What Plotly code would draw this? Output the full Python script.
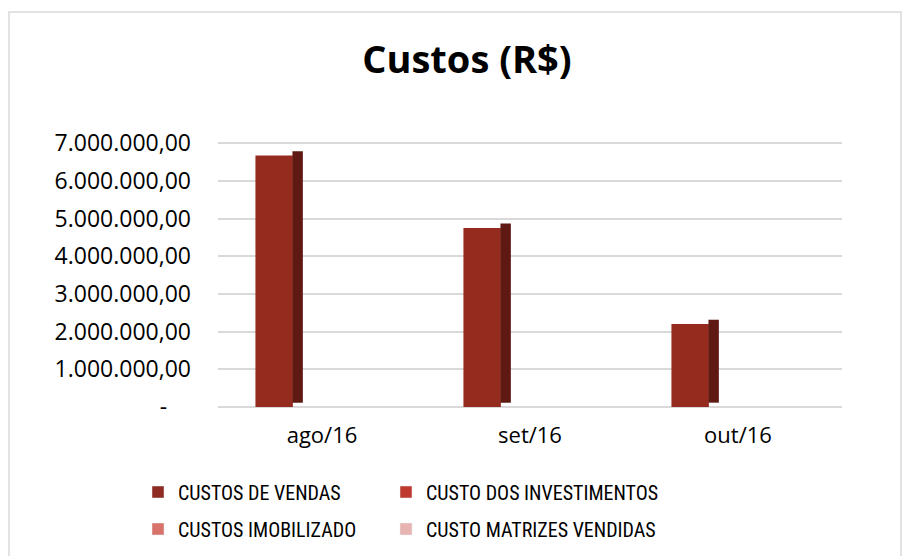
import plotly.graph_objects as go

# ---------------- data ----------------
categories = ["ago/16", "set/16", "out/16"]
series_names = ["CUSTOS DE VENDAS", "CUSTO DOS INVESTIMENTOS",
                "CUSTOS IMOBILIZADO", "CUSTO MATRIZES VENDIDAS"]
custos_vendas = [6670000, 4750000, 2200000]
custo_investimentos = [0, 0, 0]
custos_imobilizado = [0, 0, 0]
custo_matrizes = [0, 0, 0]
tick_values = [0, 1000000, 2000000, 3000000, 4000000, 5000000, 6000000, 7000000]
tick_labels = ["-\u00a0\u00a0\u00a0\u00a0", "1.000.000,00", "2.000.000,00", "3.000.000,00",
               "4.000.000,00", "5.000.000,00", "6.000.000,00", "7.000.000,00"]

series_values = [custos_vendas, custo_investimentos, custos_imobilizado, custo_matrizes]
colors = ["#8E2B22", "#BE3A2E", "#D9726A", "#E8B4B1"]
front_color = "#952A1E"

# the page body has an 8px margin, so the figure is sized to fit the window
W, H = 905, 548
ml, mr, mt, mb = 210, 71, 134, 149

fig = go.Figure()
bw = 0.18
start = -0.32
for i, (name, vals) in enumerate(zip(series_names, series_values)):
    fig.add_trace(go.Bar(
        x=categories, y=vals, name=name,
        offset=start + i * bw, width=bw,
        marker=dict(color=front_color if i == 0 else colors[i], line=dict(width=0)),
        showlegend=False,
        hoverinfo="x+y+name",
    ))

# 3D-like side face for the first series
depth = 230000
fig.add_trace(go.Bar(
    x=categories, y=custos_vendas, base=depth * 0.5,
    offset=start + bw - 0.002, width=0.05,
    marker=dict(color="#5E1A12", line=dict(width=0)),
    showlegend=False, hoverinfo="skip",
))

legend_keys = ["legend", "legend2", "legend3", "legend4"]
# legend swatches with the legend colours
for i, name in enumerate(series_names):
    fig.add_trace(go.Bar(
        x=[None], y=[None], name=name,
        marker=dict(color=colors[i]),
        legend=legend_keys[i],
        showlegend=True,
    ))

font_family = "Open Sans, Roboto, DejaVu Sans, sans-serif"
legend_font = dict(family="Liberation Sans Narrow, Roboto Condensed, Roboto, sans-serif",
                   size=20, color="#000000")

pw = W - ml - mr
ph = H - mt - mb


def px_x(p):
    return (p - ml) / pw


def px_y(p):
    return (H - mb - p) / ph


legend_pos = [(130, 484), (378, 484), (130, 521), (378, 521)]
legend_layout = {}
for key, (lx, ly) in zip(legend_keys, legend_pos):
    legend_layout[key] = dict(orientation="h", x=px_x(lx), y=px_y(ly),
                              xanchor="left", yanchor="middle", font=legend_font,
                              bgcolor="rgba(0,0,0,0)", itemwidth=30)

fig.update_layout(
    width=W, height=H,
    margin=dict(l=ml, r=mr, t=mt, b=mb, autoexpand=False),
    paper_bgcolor="white", plot_bgcolor="white",
    barmode="overlay",
    title=dict(text="<b>Custos (R$)</b>", x=459 / W, xanchor="center",
               y=1 - 52 / H, yanchor="middle", xref="container", yref="container",
               font=dict(family=font_family, size=38, color="#000000")),
    xaxis=dict(
        showgrid=False, showline=False, ticks="",
        tickfont=dict(family=font_family, size=22, color="#000000"),
        ticklabelstandoff=13, range=[-0.5, 2.5],
    ),
    yaxis=dict(
        range=[0, 7030000], tickvals=tick_values, ticktext=tick_labels,
        showgrid=True, gridcolor="#D9D9D9", gridwidth=2,
        zeroline=True, zerolinecolor="#D9D9D9", zerolinewidth=2,
        showline=False, ticks="",
        tickfont=dict(family=font_family, size=23, color="#000000"),
        ticklabelstandoff=26,
    ),
    showlegend=True,
    shapes=[dict(type="rect", xref="paper", yref="paper",
                 x0=px_x(1), x1=px_x(893), y0=px_y(600), y1=px_y(4),
                 line=dict(color="#D9D9D9", width=1.5), fillcolor="rgba(0,0,0,0)",
                 layer="below")],
    **legend_layout,
)

fig.write_html("out.html")
